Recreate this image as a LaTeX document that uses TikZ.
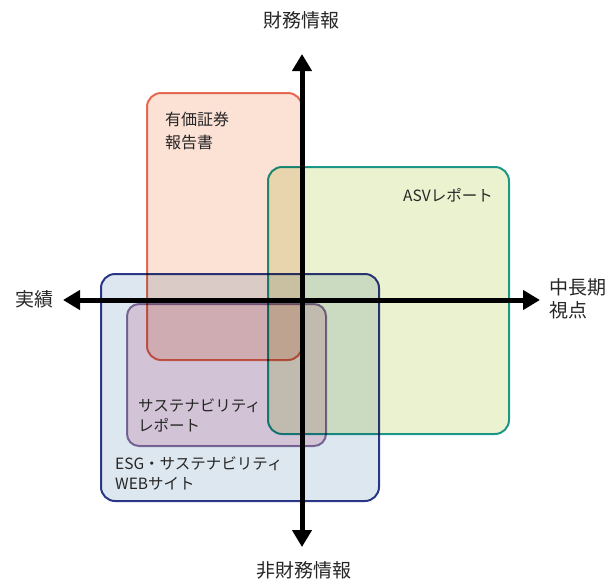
\documentclass[tikz,border=0pt]{standalone}
\usepackage{fontspec}
\setmainfont{Noto Sans CJK JP}
\usetikzlibrary{arrows.meta}
\definecolor{redfill}{HTML}{FCE1D5}
\definecolor{redline}{HTML}{E8705A}
\definecolor{greenfill}{HTML}{EBF2D0}
\definecolor{greenline}{HTML}{1E9C9A}
\definecolor{bluefill}{HTML}{DDE7EF}
\definecolor{blueline}{HTML}{2E3A8C}
\definecolor{purplefill}{HTML}{F3D9E5}
\definecolor{purpleline}{HTML}{8C78A6}
\tikzset{
  region/.style={draw, line width=2pt, rounded corners=14pt, anchor=north west,
    inner sep=0pt, blend mode=multiply},
  axis/.style={line width=5pt, {Triangle[length=17pt,width=19pt]}-{Triangle[length=17pt,width=19pt]}},
  axlabel/.style={inner sep=0pt, font=\fontsize{19}{23}\selectfont, text=black!85},
  boxlabel/.style={inner sep=0pt, anchor=west, align=left, text=black!85}
}
\begin{document}
\begin{tikzpicture}[x=1pt,y=-1pt]
\useasboundingbox (0,0) rectangle (614,582);
% regions
\node[region, fill=redfill, draw=redline, minimum width=155pt, minimum height=267pt] (yuho) at (146,92) {};
\node[region, fill=greenfill, draw=greenline, minimum width=241pt, minimum height=267pt] (asv) at (267,166) {};
\node[region, fill=bluefill, draw=blueline, minimum width=278pt, minimum height=227pt] (esg) at (100,273) {};
\node[region, fill=purplefill, draw=purpleline, minimum width=199pt, minimum height=142pt, rounded corners=12pt] (sus) at (126,303) {};
% labels in regions
\node[boxlabel, font=\fontsize{16}{23}\selectfont] (tyuho) at (165,130.5) {有価証券\\報告書};
\node[inner sep=0pt, anchor=east, text=black!85, font=\fontsize{15.5}{20}\selectfont] (tasv) at (493,195) {ASVレポート};
\node[boxlabel, font=\fontsize{15.5}{20}\selectfont] (tsus) at (138,415) {サステナビリティ\\レポート};
\node[boxlabel, font=\fontsize{15.5}{20}\selectfont] (tesg) at (115,473) {ESG・サステナビリティ\\WEBサイト};
% axes
\coordinate (top) at (302,54);
\coordinate (bot) at (302,547);
\coordinate (lft) at (63,300);
\coordinate (rgt) at (540,300);
\draw[axis] (bot) -- (top);
\draw[axis] (lft) -- (rgt);
% axis labels
\node[axlabel] (fin) at (301,20) {財務情報};
\node[axlabel] (nonfin) at (304,570) {非財務情報};
\node[axlabel] (actual) at (35,299) {実績};
\node[axlabel, anchor=west, align=left] (mid) at (549,298.5) {中長期\\視点};
\end{tikzpicture}
\end{document}
